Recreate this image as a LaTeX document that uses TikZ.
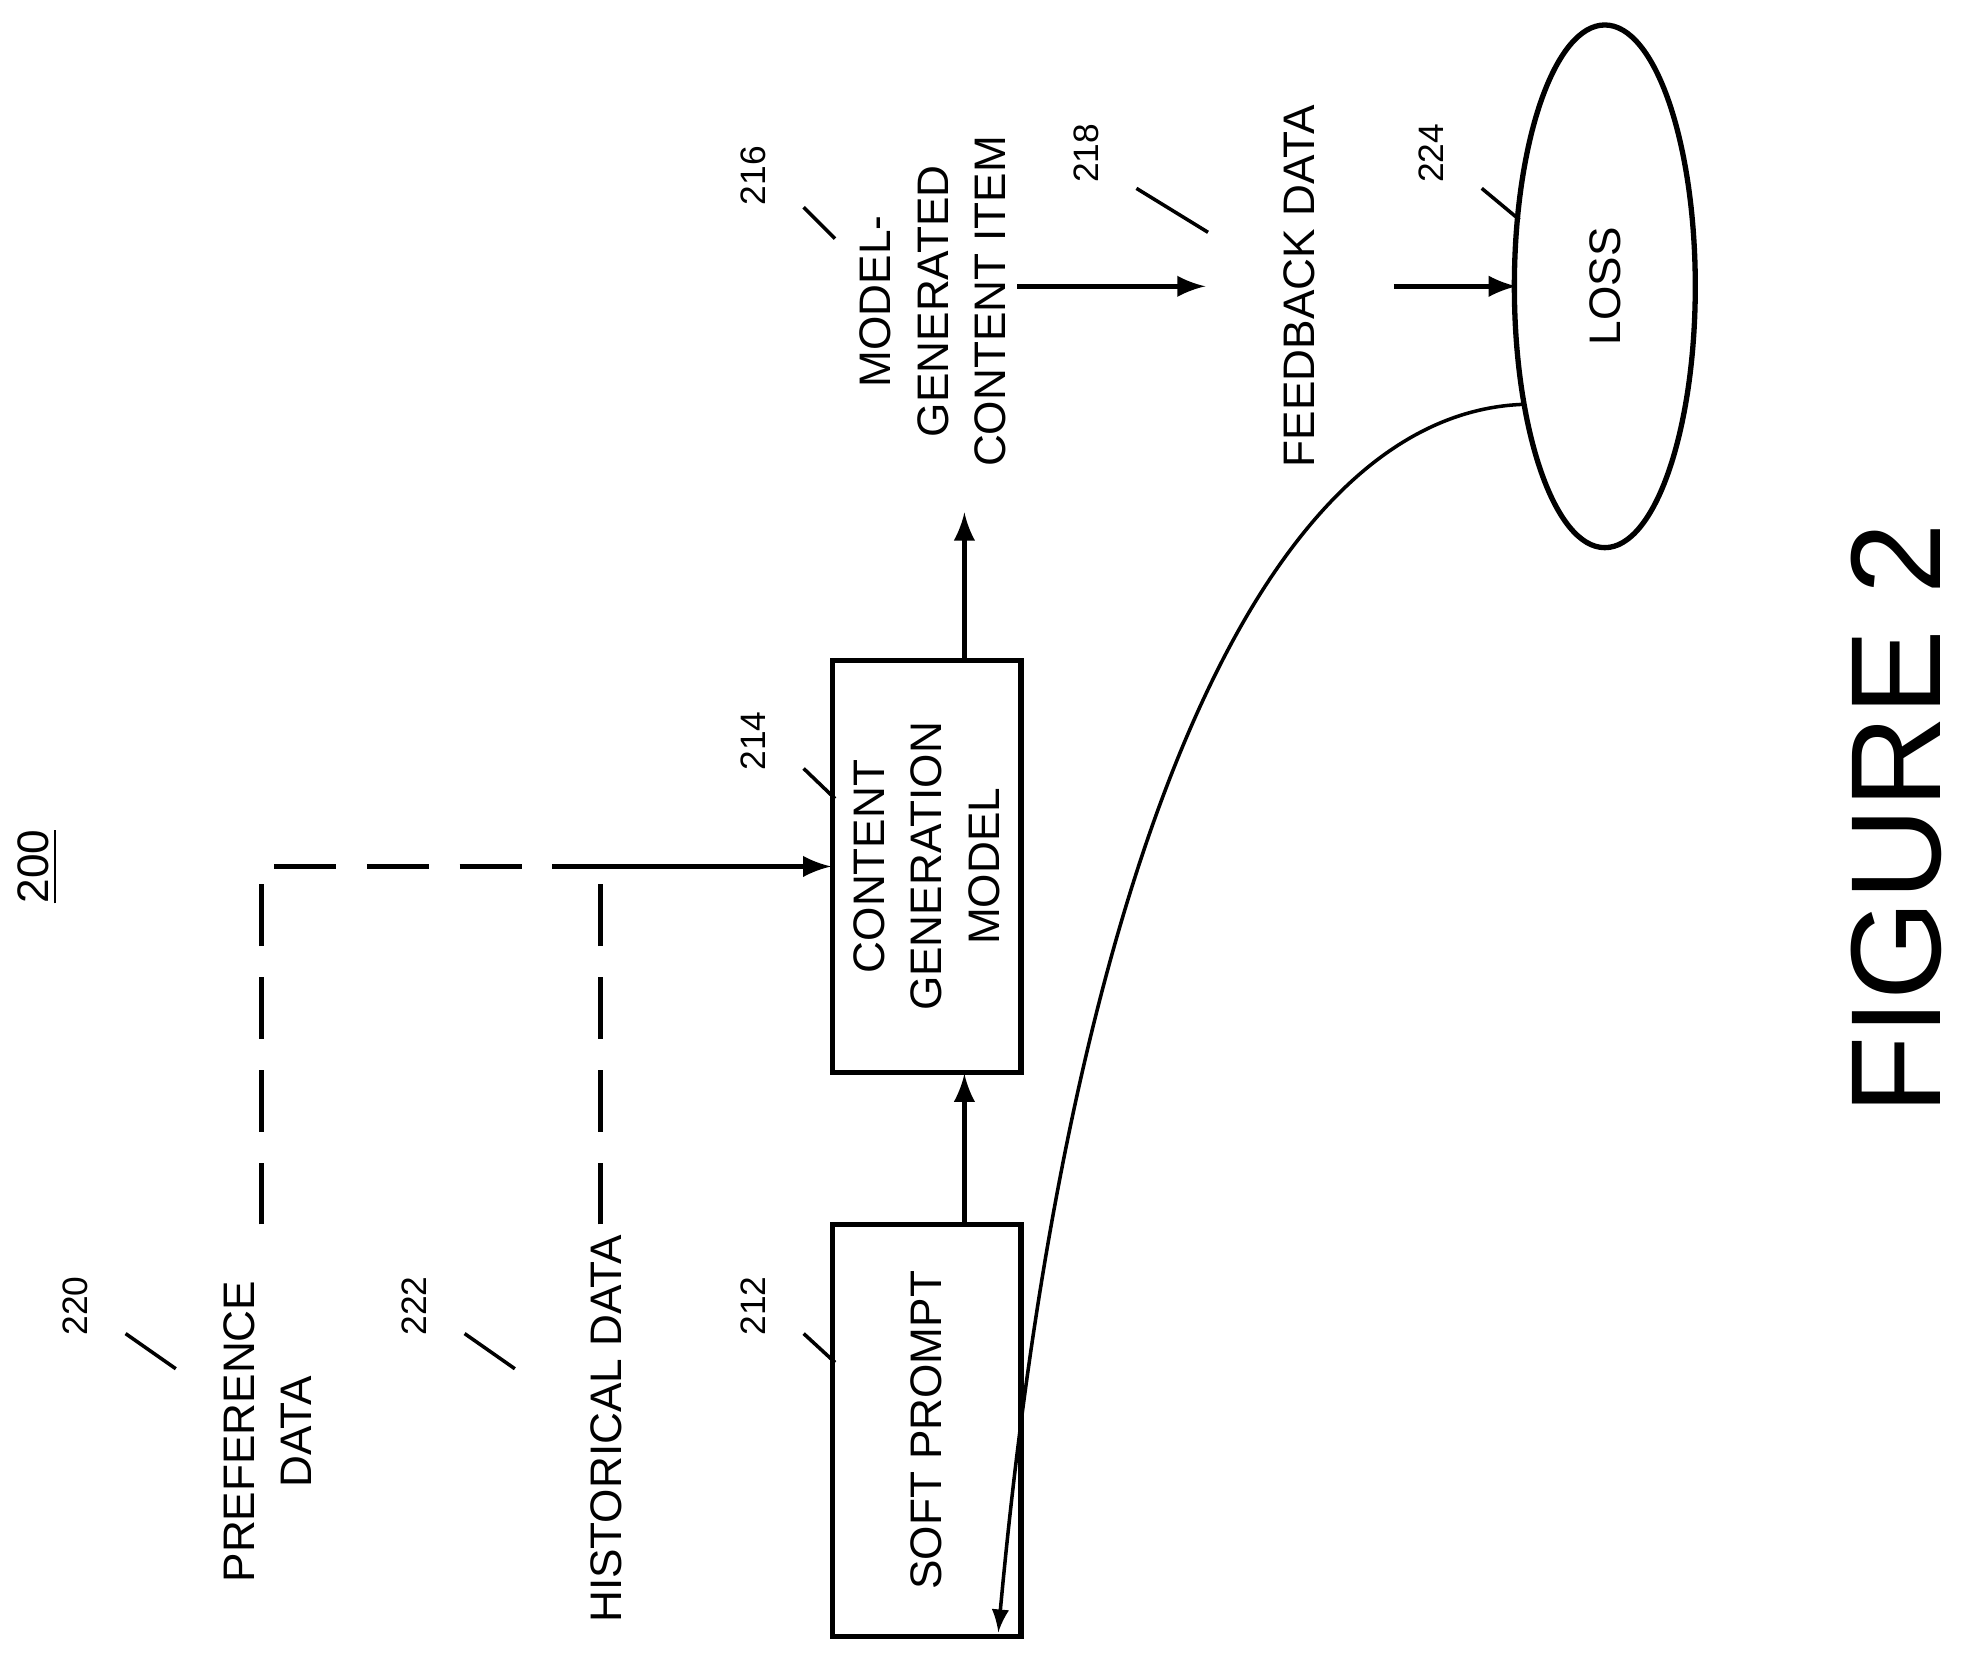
\documentclass[tikz,border=0pt]{standalone}
\usepackage{fontspec}
\setmainfont{Liberation Sans}
\usetikzlibrary{shapes.geometric}
\begin{document}
\begin{tikzpicture}[x=0.01cm,y=-0.01cm,
  box/.style={draw, very thick, rotate=90, minimum width=3.28cm, minimum height=1.5cm, align=center, font=\fontsize{10}{13}\selectfont},
  lbl/.style={rotate=90, align=center, font=\fontsize{10}{13}\selectfont},
  num/.style={rotate=90, font=\fontsize{8}{10}\selectfont},
  arr/.style={very thick, -{latex}}]
\useasboundingbox (0,0) rectangle (1568,1321);

\node [lbl] (fig) at (30,690) {\underline{200}};
\node [box] (soft) at (738,1139) {SOFT PROMPT};
\node [box] (cgm) at (738,690) {CONTENT\\GENERATION\\MODEL};
\node [lbl, inner sep=0pt] (item) at (743,240) {MODEL-\\GENERATED\\CONTENT ITEM};
\node [lbl, inner sep=0pt] (fb) at (1035,228) {FEEDBACK DATA};
\node [draw, very thick, ellipse, minimum width=1.44cm, minimum height=4.16cm] (loss) at (1278,228) {};
\node [lbl] at (loss) {LOSS};
\node [lbl] (pref) at (213,1140) {PREFERENCE\\DATA};
\node [lbl] (hist) at (483,1138) {HISTORICAL DATA};
\node [font=\fontsize{29}{34}\selectfont, rotate=90] (fig2) at (1510,652) {FIGURE 2};

\draw [arr] (768,975) -- (768,855);
\draw [arr] (768,525) -- (768,408);
\draw [arr] (810,228) -- (960,228);
\draw [arr] (1110,228) -- (1208,228);
\draw [thick, -{latex}] (1213,322) .. controls (1000,330) and (850,700) .. (795,1300);

\coordinate (p1) at (208,975);
\coordinate (p2) at (208,690);
\coordinate (h1) at (478,975);
\coordinate (h2) at (478,700);
\coordinate (j) at (460,690);
\coordinate (c) at (662,690);
\draw [very thick, dash pattern=on 14pt off 7pt] (p1) -- (p2) -- (j);
\draw [very thick, dash pattern=on 14pt off 7pt] (h1) -- (h2);
\draw [arr] (j) -- (c);

% reference numbers
\node [num] at (60,1040) {220};
\draw [thick] (100,1062) -- (140,1090);
\node [num] at (330,1040) {222};
\draw [thick] (370,1062) -- (410,1090);
\node [num] at (600,1040) {212};
\draw [thick] (640,1062) -- (665,1085);
\node [num] at (600,590) {214};
\draw [thick] (640,612) -- (665,636);
\node [num] at (600,140) {216};
\draw [thick] (640,165) -- (665,190);
\node [num] at (865,122) {218};
\draw [thick] (905,150) -- (962,185);
\node [num] at (1140,122) {224};
\draw [thick] (1180,150) -- (1210,175);
\end{tikzpicture}
\end{document}
